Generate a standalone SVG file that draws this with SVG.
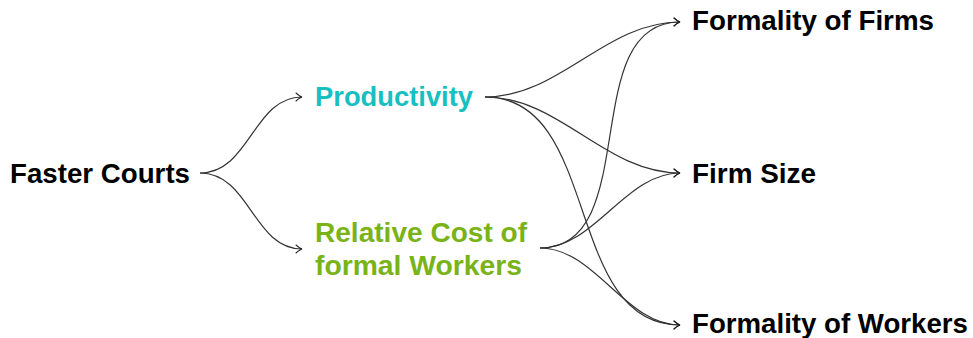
<svg xmlns="http://www.w3.org/2000/svg" width="973" height="338" viewBox="0 0 973 338">
  <defs>
    <marker id="arr" viewBox="-6 -5 8 10" refX="1" refY="0" markerWidth="8" markerHeight="10" markerUnits="userSpaceOnUse" orient="auto">
      <path d="M-5,-4 Q-1,-0.5 1,0 Q-1,0.5 -5,4" fill="none" stroke="#222" stroke-width="1.1" stroke-linecap="round"/>
    </marker>
    <style>
      .lbl { font-family: "Liberation Sans", Arial, sans-serif; font-weight: bold; font-size: 27px; fill: #000; }
      .cyan { fill: #17bfc0; }
      .green { fill: #7ab317; }
      .edge { fill: none; stroke: #333; stroke-width: 1.2; marker-end: url(#arr); }
    </style>
  </defs>
  <rect width="973" height="338" fill="#fff"/>

  <g id="connectors">
    <!-- Faster Courts -> mediators -->
    <path class="edge" d="M200,173 C250,173 253,97 302,97"/>
    <path class="edge" d="M200,173 C250,173 253,249 302,249"/>
    <!-- Productivity -> outcomes -->
    <path class="edge" d="M485,97 C560,97 605,22 680,22"/>
    <path class="edge" d="M485,97 C560,97 605,173 680,173"/>
    <path class="edge" d="M485,97 C602,97 563,325 680,325"/>
    <!-- Relative cost -> outcomes -->
    <path class="edge" d="M540,248 C644,248 576,22 680,22"/>
    <path class="edge" d="M540,248 C595,248 625,173 680,173"/>
    <path class="edge" d="M540,248 C595,248 625,325 680,325"/>
  </g>

  <g id="faster-courts">
    <text class="lbl" x="10" y="183" textLength="180" lengthAdjust="spacingAndGlyphs">Faster Courts</text>
  </g>
  <g id="productivity">
    <text class="lbl cyan" x="315" y="106" textLength="158" lengthAdjust="spacingAndGlyphs">Productivity</text>
  </g>
  <g id="relative-cost">
    <text class="lbl green" x="315" y="242" textLength="212" lengthAdjust="spacingAndGlyphs">Relative Cost of</text>
    <text class="lbl green" x="315" y="275" textLength="207" lengthAdjust="spacingAndGlyphs">formal Workers</text>
  </g>
  <g id="formality-firms">
    <text class="lbl" x="692" y="30" textLength="242" lengthAdjust="spacingAndGlyphs">Formality of Firms</text>
  </g>
  <g id="firm-size">
    <text class="lbl" x="692" y="183" textLength="124" lengthAdjust="spacingAndGlyphs">Firm Size</text>
  </g>
  <g id="formality-workers">
    <text class="lbl" x="692" y="333" textLength="276" lengthAdjust="spacingAndGlyphs">Formality of Workers</text>
  </g>
</svg>
